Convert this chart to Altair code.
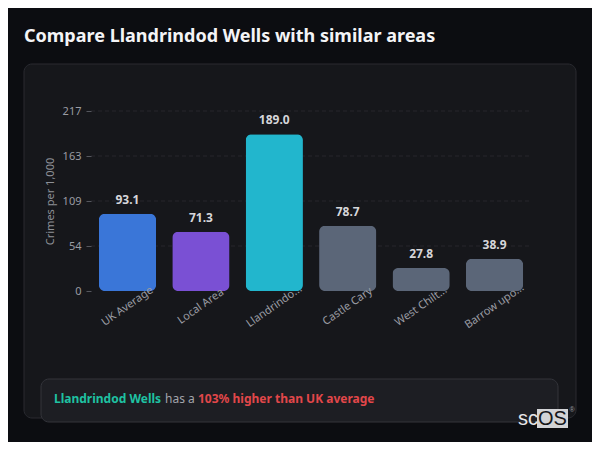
import altair as alt
import pandas as pd

# ---- data ----
names = ["UK Average", "Local Area", "Llandrindod Wells", "Castle Cary", "West Chiltington", "Barrow upon Soar"]
values = [93.1, 71.3, 189.0, 78.7, 27.8, 38.9]
colors = ["#3a76d8", "#7a50d4", "#22b6cd", "#5b6678", "#5b6678", "#5b6678"]
tick_values = [0, 54.25, 108.5, 162.75, 217]
title_text = "Compare Llandrindod Wells with similar areas"
footer_place = "Llandrindod Wells"
footer_mid = "has a"
footer_result = "103% higher than UK average"

df = pd.DataFrame({"name": names, "value": values, "color": colors})
grid_df = pd.DataFrame({"value": tick_values[1:]})
one = alt.Data(values=[{"k": 1}])

FONT = "Noto Sans"
W, H = 440, 180

yscale = alt.Scale(domain=[0, 217], nice=False)
xscale = alt.Scale(paddingInner=0.22, paddingOuter=0.107)

label_expr = "length(datum.label) > 11 ? substring(datum.label, 0, 10) + '...' : datum.label"
x_axis = alt.Axis(labelAngle=-35, labelAlign="center", labelBaseline="middle",
                  labelPadding=15, ticks=False, domain=False, labelColor="#9a9ca3",
                  labelFontSize=11, labelFont=FONT, labelExpr=label_expr, zindex=1,
                  grid=False)
y_axis = alt.Axis(values=tick_values, format=".0f", grid=False, domain=False,
                  tickColor="#55575e", tickSize=5, labelColor="#9a9ca3",
                  labelFontSize=11, labelFont=FONT, labelPadding=5,
                  titleColor="#8e9097", titleFontSize=11,
                  titleFont=FONT, titleFontWeight="normal", titleX=-41, titleY=90,
                  titleAngle=-90, titleAlign="center", titleBaseline="middle", zindex=1)

card = alt.Chart(one).mark_rect(
    fill="#16171b", stroke="#2a2b31", strokeWidth=1, cornerRadius=8
).encode(x=alt.value(-67), x2=alt.value(485), y=alt.value(-47), y2=alt.value(307))

title = alt.Chart(one).mark_text(
    text=title_text, font=FONT, fontSize=18, fontWeight="bold", color="#f4f4f6",
    align="left", baseline="middle"
).encode(x=alt.value(-67), y=alt.value(-74))

grid = alt.Chart(grid_df).mark_rule(
    color="#26272d", strokeDash=[4, 3], strokeWidth=1
).encode(
    y=alt.Y("value:Q", scale=yscale, axis=y_axis, title="Crimes per 1,000"),
    x=alt.value(0), x2=alt.value(W),
)

bars = alt.Chart(df).mark_bar(cornerRadius=6).encode(
    x=alt.X("name:N", sort=None, scale=xscale, title=None, axis=x_axis),
    y=alt.Y("value:Q", scale=yscale, axis=y_axis, title="Crimes per 1,000"),
    color=alt.Color("color:N", scale=None),
)

value_labels = alt.Chart(df).mark_text(
    dy=-7, baseline="bottom", font=FONT, fontWeight="bold", fontSize=12, color="#d6d6da"
).encode(
    x=alt.X("name:N", sort=None, scale=xscale, title=None, axis=x_axis),
    y=alt.Y("value:Q", scale=yscale, axis=y_axis, title="Crimes per 1,000"),
    text=alt.Text("value:Q", format=".1f"),
)

footer_box = alt.Chart(one).mark_rect(
    fill="#1d1e23", stroke="#34353b", strokeWidth=1, cornerRadius=8
).encode(x=alt.value(-50), x2=alt.value(467), y=alt.value(268), y2=alt.value(311))

f1 = alt.Chart(one).mark_text(
    text=footer_place, font=FONT, fontSize=12, fontWeight="bold", color="#1fc2a2",
    align="left", baseline="middle"
).encode(x=alt.value(-37), y=alt.value(288))
f2 = alt.Chart(one).mark_text(
    text=footer_mid, font=FONT, fontSize=12, color="#a3a5ab",
    align="left", baseline="middle"
).encode(x=alt.value(74), y=alt.value(288))
f3 = alt.Chart(one).mark_text(
    text=footer_result, font=FONT, fontSize=12, fontWeight="bold", color="#e2474a",
    align="left", baseline="middle"
).encode(x=alt.value(107), y=alt.value(288))

logo_box = alt.Chart(one).mark_rect(fill="#d2d3d6").encode(
    x=alt.value(446), x2=alt.value(477), y=alt.value(298), y2=alt.value(317))
logo_sc = alt.Chart(one).mark_text(
    text="sc", font="Liberation Sans", fontSize=20, color="#e6e6e8",
    align="left", baseline="middle"
).encode(x=alt.value(427), y=alt.value(308))
logo_os = alt.Chart(one).mark_text(
    text="OS", font="Liberation Sans", fontSize=20, color="#15161a",
    align="left", baseline="middle"
).encode(x=alt.value(447), y=alt.value(308))
logo_r = alt.Chart(one).mark_text(
    text="®", font="Liberation Sans", fontSize=7, color="#9a9ca3",
    align="center", baseline="middle"
).encode(x=alt.value(481), y=alt.value(299))

chart = alt.layer(
    card, title, grid, bars, value_labels, footer_box, f1, f2, f3,
    logo_box, logo_sc, logo_os, logo_r
).properties(
    width=W, height=H,
    autosize=alt.AutoSizeParams(type="none"),
    padding={"left": 83, "top": 103, "right": 61, "bottom": 151},
    background="#0c0d11",
).configure_view(stroke=None)

chart.save("out.html", embed_options={"renderer": "svg", "actions": False})
